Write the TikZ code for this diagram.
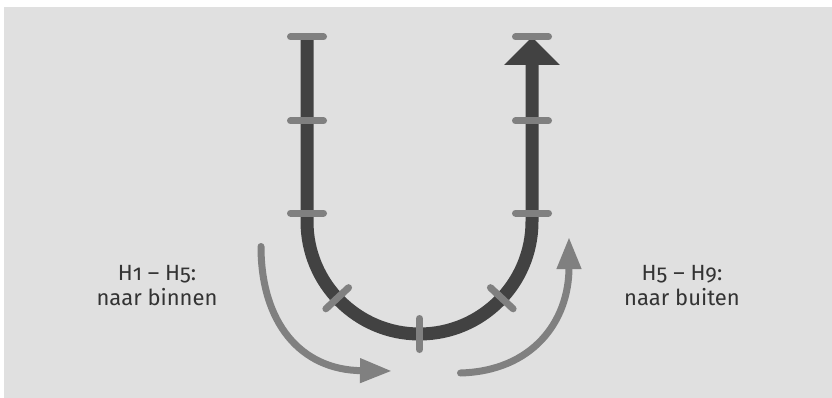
\documentclass[tikz,border=0pt]{standalone}
\usepackage{fontspec}
\setmainfont{Fira Sans}[Numbers=OldStyle]
\usetikzlibrary{arrows.meta}
\definecolor{bg}{HTML}{E0E0E0}
\definecolor{dark}{HTML}{424242}
\definecolor{mid}{HTML}{808080}
\definecolor{txt}{HTML}{333333}
\tikzset{
  tube/.style={draw=dark, line width=13pt},
  tick/.style={draw=mid, line width=7pt, line cap=round},
  flow/.style={draw=mid, line width=7pt, -{Triangle[width=23pt,length=32pt]}},
  lbl/.style={text=txt, font=\fontsize{22pt}{25pt}\selectfont, anchor=base, inner sep=0pt}
}
\begin{document}
\begin{tikzpicture}[x=1pt,y=-1pt]
\useasboundingbox (0,0) rectangle (832,398);
\fill[bg] (4,7) rectangle (832,398);
% U tube
\coordinate (lt) at (307,37);
\coordinate (lb) at (307,221.5);
\coordinate (c) at (419.5,221.5);
\coordinate (rb) at (532,221.5);
\coordinate (rt) at (532,37);
\draw[tube, -{Triangle[width=54pt,length=28pt]}] (lt) -- (lb) arc[start angle=180, end angle=360, radius=112.5pt] -- (rt);
% ticks on verticals
\foreach \y in {37,121,213}{
  \draw[tick] (290.5,\y) -- (323.5,\y);
  \draw[tick] (515.5,\y) -- (548.5,\y);
}
% ticks on arc
\foreach \a in {-137,-90,-43}{
  \draw[tick] ([shift={(\a:97pt)}]c) -- ([shift={(\a:128pt)}]c);
}
% flow arrows
\coordinate (f1s) at (261,246.5);
\coordinate (f1e) at (392,371);
\draw[flow, line cap=round] (f1s) .. controls (261,322) and (300,370) .. (f1e);
\coordinate (f2s) at (460.5,373);
\coordinate (f2e) at (569,237);
\draw[flow, line cap=round] (f2s) .. controls (532,371) and (569,322) .. (f2e);
% labels
\node[lbl] (l1) at (157,280) {H1 – H5:};
\node[lbl] (l2) at (157,305) {naar binnen};
\node[lbl] (r1) at (682,280) {H5 – H9:};
\node[lbl] (r2) at (682,305) {naar buiten};
\end{tikzpicture}
\end{document}
